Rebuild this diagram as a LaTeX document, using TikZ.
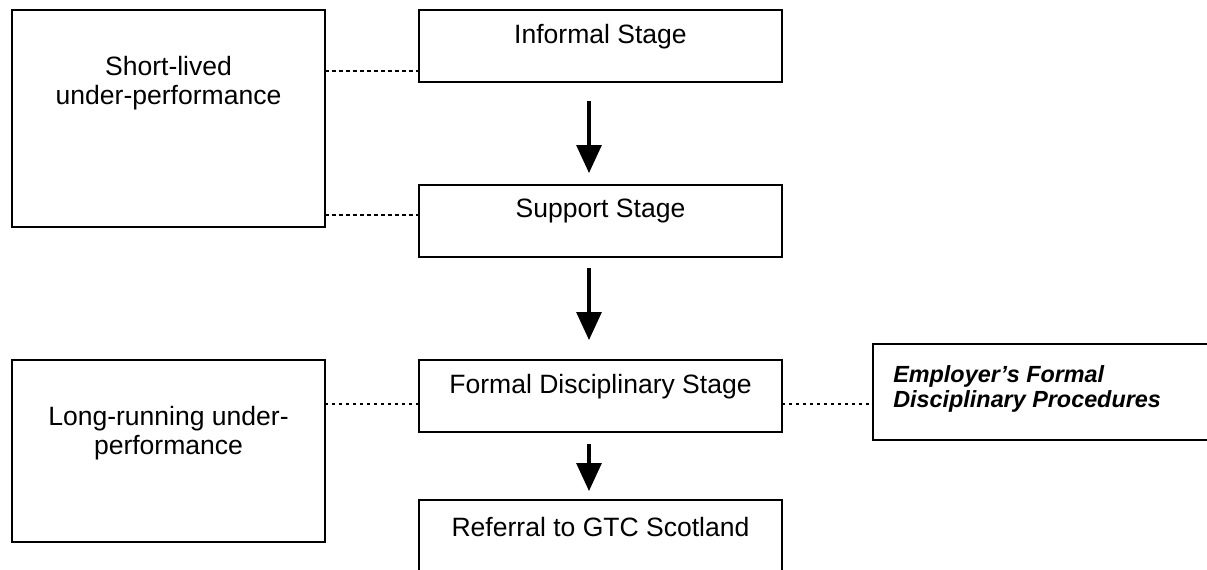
\documentclass[tikz,border=0pt]{standalone}
\usepackage{fontspec}
\setmainfont{Liberation Sans}
\usetikzlibrary{arrows.meta, calc}

\begin{document}
\begin{tikzpicture}[x=0.02cm, y=-0.02cm,
    box/.style={draw, line width=1.3pt, inner sep=0pt, outer sep=0pt},
    stage/.style={box, minimum width=7.26cm, minimum height=1.44cm},
    side/.style={box, minimum width=6.26cm},
    txt/.style={inner sep=0pt, align=center, font=\fontsize{15.1}{16.5}\selectfont},
    note/.style={inner sep=0pt, align=left, font=\fontsize{13.3}{13.8}\selectfont\bfseries\itshape},
    flow/.style={line width=1.8pt, -{Triangle[width=0.5cm, length=0.56cm]}},
    thinlink/.style={line width=0.8pt, dash pattern=on 0.08cm off 0.06cm},
    thicklink/.style={line width=1.5pt, dash pattern=on 0.07cm off 0.07cm}]

      \useasboundingbox (0,0) rectangle (1207,569);

      \coordinate (spine) at (589,0);

      \node[side, minimum height=4.34cm] (short) at (168.5,118.5) {};
      \node[side, minimum height=3.64cm] (long) at (168.5,451) {};
      \node[stage] (informal) at (600.5,46) {};
      \node[stage] (support) at (600.5,221) {};
      \node[stage] (formal) at (600.5,396) {};
      \node[stage, minimum height=2cm] (referral) at (600.5,550) {};
      \node[box, minimum width=7.54cm, minimum height=1.92cm] (employer) at (1061.5,392) {};

      \node[txt] (shorttxt) at (168.5,83) {Short-lived\\under-performance};
      \node[txt] (longtxt) at (168.5,433) {Long-running under-\\performance};
      \node[txt] (informaltxt) at (600.5,37) {Informal Stage};
      \node[txt] (supporttxt) at (600.5,211) {Support Stage};
      \node[txt] (formaltxt) at (600.5,387) {Formal Disciplinary Stage};
      \node[txt] (referraltxt) at (600.5,527) {Referral to GTC Scotland};
      \node[note, anchor=west] (employertxt) at (893,389) {Employer’s Formal\\Disciplinary Procedures};

      \draw[thinlink] (short.east |- 0,71) -- (informal.west |- 0,71);
      \draw[thinlink] (short.east |- 0,215) -- (support.west |- 0,215);
      \draw[thicklink] (long.east |- 0,404) -- (formal.west |- 0,404);
      \draw[thicklink] (formal.east |- 0,404) -- (employer.west |- 0,404);

      \draw[flow, shorten <=0.38cm, shorten >=0.24cm] (informal.south -| spine) -- (support.north -| spine);
      \draw[flow, shorten <=0.22cm, shorten >=0.4cm] (support.south -| spine) -- (formal.north -| spine);
      \draw[flow, shorten <=0.24cm, shorten >=0.18cm] (formal.south -| spine) -- (referral.north -| spine);

    \end{tikzpicture}
\end{document}
